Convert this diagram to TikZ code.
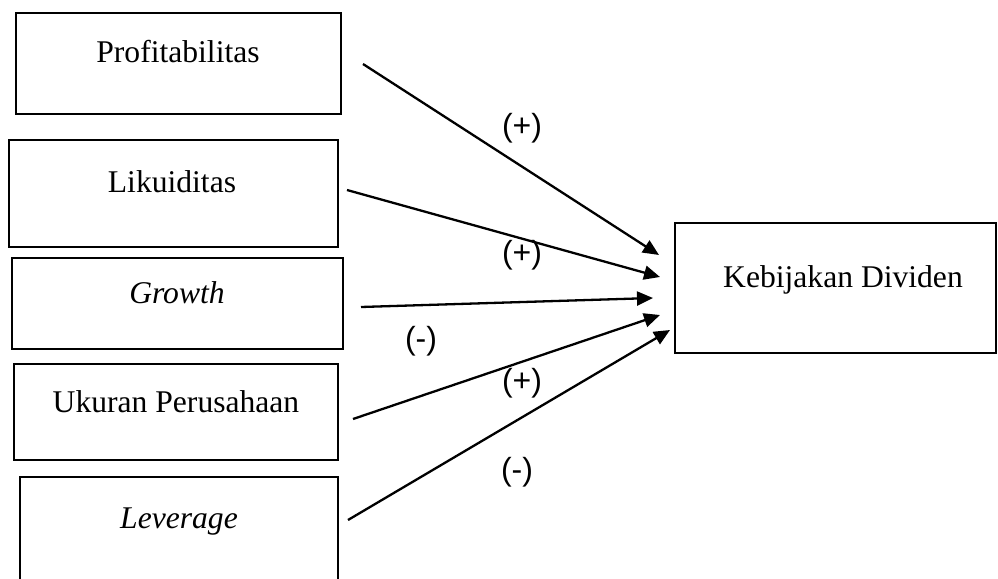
\documentclass[tikz,border=0pt]{standalone}
\usepackage{fontspec}
\setmainfont{Liberation Serif}
\newfontfamily\lblfont{Liberation Sans}
\usetikzlibrary{arrows.meta}
\begin{document}
\begin{tikzpicture}[x=1pt,y=-1pt,
  varbox/.style={draw,line width=2.3pt,rectangle,inner sep=0pt},
  vartext/.style={anchor=base,inner sep=0pt,font=\fontsize{31.6}{38}\selectfont},
  sign/.style={inner sep=0pt,font=\lblfont\fontsize{32}{38}\selectfont},
  link/.style={line width=2.3pt,-{Triangle[length=16pt,width=14pt]}}]
\useasboundingbox (0,0) rectangle (998,578);
% boxes
\node[varbox,minimum width=325pt,minimum height=101pt] (p) at (178.3,63.5) {};
\node[varbox,minimum width=329pt,minimum height=107pt] (l) at (173.5,193.5) {};
\node[varbox,minimum width=331pt,minimum height=91pt] (g) at (177.5,303.5) {};
\node[varbox,minimum width=324pt,minimum height=96pt] (u) at (176,412) {};
\node[varbox,minimum width=318pt,minimum height=113pt] (v) at (179,533.5) {};
\node[varbox,minimum width=321pt,minimum height=130pt] (k) at (835.5,288) {};
% texts
\node[vartext] (pt) at (178,63) {Profitabilitas};
\node[vartext] (lt) at (172,192) {Likuiditas};
\node[vartext] (gt) at (177,303) {\itshape Growth};
\node[vartext] (ut) at (176,412) {Ukuran Perusahaan};
\node[vartext] (vt) at (179,528) {\itshape Leverage};
\node[vartext] (kt) at (843,287) {Kebijakan Dividen};
% connector ends
\coordinate (ps) at (363,64);
\coordinate (pe) at (659,255);
\coordinate (ls) at (347,190);
\coordinate (le) at (660,277);
\coordinate (gs) at (361,307);
\coordinate (ge) at (653,298);
\coordinate (us) at (353,419);
\coordinate (ue) at (660,315);
\coordinate (vs) at (348,520);
\coordinate (ve) at (670,330);
\draw[link] (ps) -- (pe);
\draw[link] (ls) -- (le);
\draw[link] (gs) -- (ge);
\draw[link] (us) -- (ue);
\draw[link] (vs) -- (ve);
% signs
\node[sign] (s1) at (522,128) {(+)};
\node[sign] (s2) at (522,255) {(+)};
\node[sign] (s3) at (421,341) {(-)};
\node[sign] (s4) at (522,383) {(+)};
\node[sign] (s5) at (517,472) {(-)};
\end{tikzpicture}
\end{document}
